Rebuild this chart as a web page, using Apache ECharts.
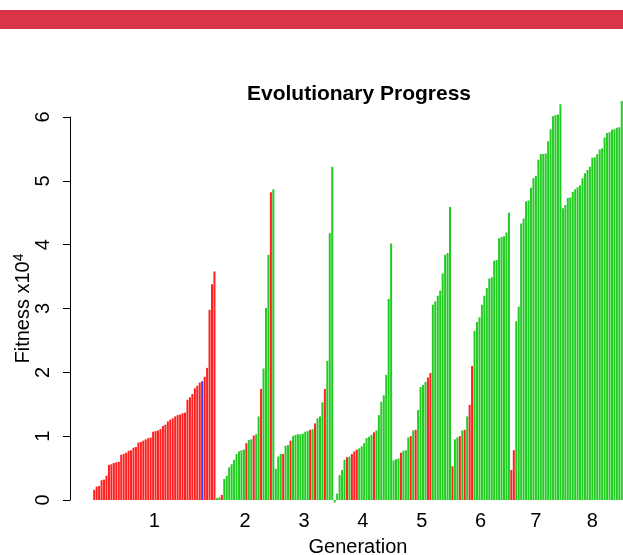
<!DOCTYPE html>
<html>
<head>
<meta charset="utf-8">
<script src="https://cdn.jsdelivr.net/npm/echarts@6/dist/echarts.min.js"></script>
<style>
html, body { margin: 0; padding: 0; background: #fff; }
#main { width: 623px; height: 555px; }
</style>
</head>
<body>
<div id="main"></div>
<script>
// fitness (x10^4) of each individual, sorted within a generation
var generations = ['1', '2', '3', '4', '5', '6', '7', '8'];

var gen1 = [0.16, 0.21, 0.22, 0.31, 0.32, 0.38, 0.55, 0.56, 0.58, 0.59,
    0.60, 0.71, 0.72, 0.74, 0.77, 0.78, 0.82, 0.83, 0.90, 0.91,
    0.93, 0.95, 0.97, 0.98, 1.07, 1.08, 1.09, 1.11, 1.16, 1.18,
    1.23, 1.26, 1.28, 1.31, 1.33, 1.34, 1.36, 1.37, 1.57, 1.61,
    1.66, 1.75, 1.79, 1.84, 1.86, 1.93, 2.07, 2.98, 3.38, 3.58];
var gen2 = [0.03, 0.04, 0.08, 0.33, 0.38, 0.51, 0.56, 0.63, 0.72, 0.76, 0.78, 0.79,
    0.89, 0.94, 0.95, 1.01, 1.03, 1.31, 1.74, 2.06, 3.01, 3.84, 4.82, 4.87];
var gen3 = [0.49, 0.68, 0.72, 0.72, 0.85, 0.86, 0.93, 1.00, 1.02, 1.03, 1.03, 1.04,
    1.07, 1.08, 1.10, 1.11, 1.20, 1.28, 1.31, 1.53, 1.74, 2.18, 4.18, 5.22];
var gen4 = [-0.04, 0.10, 0.39, 0.47, 0.63, 0.67, 0.68, 0.72, 0.76, 0.79, 0.81, 0.84,
    0.89, 0.97, 0.99, 1.02, 1.06, 1.09, 1.33, 1.54, 1.64, 1.96, 3.15, 4.02];
var gen5 = [0.62, 0.64, 0.65, 0.74, 0.77, 0.78, 0.98, 1.00, 1.09, 1.10, 1.41, 1.77,
    1.80, 1.85, 1.92, 1.99, 3.06, 3.11, 3.20, 3.28, 3.55, 3.84, 3.87, 4.59];
var gen6 = [0.53, 0.95, 0.98, 1.00, 1.09, 1.10, 1.31, 1.49, 2.10, 2.65, 2.79, 2.86,
    3.06, 3.20, 3.32, 3.47, 3.49, 3.75, 3.76, 4.10, 4.12, 4.13, 4.19, 4.50];
var gen7 = [0.47, 0.78, 2.80, 3.03, 4.33, 4.41, 4.68, 4.69, 4.89, 5.04, 5.08,
    5.33, 5.42, 5.42, 5.43, 5.62, 5.81, 6.01, 6.03, 6.04, 6.20];
var gen8 = [4.57, 4.62, 4.73, 4.74, 4.83, 4.87, 4.90, 4.93, 5.04, 5.12, 5.17, 5.22,
    5.36, 5.37, 5.42, 5.49, 5.51, 5.68, 5.75, 5.76, 5.80, 5.81, 5.83, 5.84, 6.25];

// origin of each individual: R = red, G = green, B = blue
var gen1Col = 'RRRRRRRRRRRRRRRRRRRRRRRRRRRRRRRRRRRRRRRRRRRRBRRRRR';
var gen2Col = 'GGRGGGGGGGGGRGGRGGRGGGRG';
var gen3Col = 'GGGRGGRGGGGGGGRGRGGGRGGG';
var gen4Col = 'GGGGGRGRRRGGGGGGRGGGGGGG';
var gen5Col = 'GGGRGGGRGRGGGGRRGGGGGGGG';
var gen6Col = 'RGGRGRGRRGGGGGGGGGGGGGGG';
var gen7Col = 'RRGGGGGGGGGGGGGGGGGGG';
var gen8Col = 'GGGGGGGGGGGGGGGGGGGGGGGGG';

var yTicks = { min: 0, max: 6, step: 1 };

var genValues = [gen1, gen2, gen3, gen4, gen5, gen6, gen7, gen8];
var genColors = [gen1Col, gen2Col, gen3Col, gen4Col, gen5Col, gen6Col, gen7Col, gen8Col];
var colorMap = { R: '#ff2020', G: '#22cc22', B: '#3a3af0' };

var FONT = '"Liberation Sans", Arial, Helvetica, sans-serif';

var cats = [];
var barData = [];
var genCenters = [];
var total = 0;
genValues.forEach(function (vals, g) {
    genCenters.push(total + vals.length / 2);
    vals.forEach(function (v, i) {
        cats.push(generations[g] + '-' + (i + 1));
        barData.push({
            value: v,
            itemStyle: { color: colorMap[genColors[g].charAt(i)] }
        });
    });
    total += vals.length;
});

var chart = echarts.init(document.getElementById('main'), null, { renderer: 'canvas' });

var option = {
    animation: false,
    backgroundColor: '#fff',
    title: {
        text: 'Evolutionary Progress',
        left: 354,
        top: 79,
        textAlign: 'center',
        textStyle: { fontFamily: FONT, fontSize: 21, fontWeight: 'bold', color: '#000' }
    },
    graphic: [{
        type: 'rect',
        shape: { x: 0, y: 10, width: 623, height: 19 },
        style: { fill: '#d83647' },
        silent: true
    }],
    // grid 0 holds the bars, grid 1 only carries the detached R-style y axis
    grid: [
        { left: 93, top: 117, width: 530, height: 383, outerBoundsMode: 'none' },
        { left: 70, top: 117, width: 1, height: 383, outerBoundsMode: 'none' }
    ],
    xAxis: [{
        type: 'category',
        gridIndex: 0,
        data: cats,
        axisLine: { show: false },
        axisTick: { show: false },
        axisLabel: { show: false },
        splitLine: { show: false }
    }, {
        type: 'value',
        gridIndex: 0,
        min: 0,
        max: total,
        position: 'bottom',
        axisLine: { show: false },
        axisTick: { show: false },
        splitLine: { show: false },
        axisLabel: {
            customValues: genCenters,
            margin: 11,
            fontFamily: FONT,
            fontSize: 20,
            color: '#000',
            formatter: function (v) {
                var k = genCenters.indexOf(v);
                return k >= 0 ? generations[k] : '';
            }
        },
        name: 'Generation',
        nameLocation: 'middle',
        nameGap: 37,
        nameTextStyle: { fontFamily: FONT, fontSize: 20, color: '#000' }
    }, {
        type: 'value',
        gridIndex: 1,
        show: false
    }],
    yAxis: [{
        type: 'value',
        gridIndex: 0,
        min: yTicks.min,
        max: yTicks.max,
        interval: yTicks.step,
        show: false
    }, {
        type: 'value',
        gridIndex: 1,
        min: yTicks.min,
        max: yTicks.max,
        interval: yTicks.step,
        position: 'left',
        axisLine: { show: true, lineStyle: { color: '#000', width: 1 } },
        axisTick: { show: true, length: 7, lineStyle: { color: '#000', width: 1 } },
        splitLine: { show: false },
        axisLabel: {
            rotate: 90,
            margin: 17,
            fontFamily: FONT,
            fontSize: 20,
            color: '#000'
        },
        name: '{a|Fitness x10}{b|4}',
        nameLocation: 'middle',
        nameGap: 35,
        nameMoveOverlap: false,
        nameTextStyle: {
            rich: {
                a: { fontFamily: FONT, fontSize: 20, color: '#000' },
                b: { fontFamily: FONT, fontSize: 14, color: '#000', verticalAlign: 'top', padding: [0, 0, 9, 0] }
            }
        }
    }],
    series: [{
        type: 'bar',
        xAxisIndex: 0,
        yAxisIndex: 0,
        data: barData,
        barCategoryGap: '18%',
        clip: false,
        silent: true
    }]
};

chart.setOption(option);
</script>
</body>
</html>
